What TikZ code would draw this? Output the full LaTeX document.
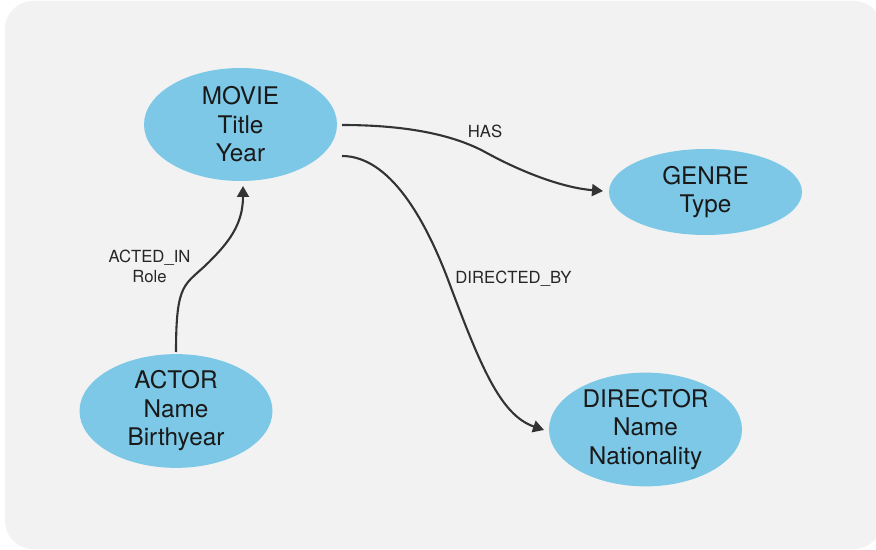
\documentclass[tikz,border=0pt]{standalone}
\usepackage{fontspec}
\setmainfont{TeX Gyre Heros}
\usetikzlibrary{arrows.meta,shapes.geometric,calc}
\definecolor{panelgray}{HTML}{F2F2F2}
\definecolor{entityblue}{HTML}{7DC8E6}
\definecolor{linkgray}{HTML}{333333}
\begin{document}
\begin{tikzpicture}[x=1bp,y=-1bp,
  entitynode/.style={ellipse, fill=entityblue, inner sep=0pt,
    minimum width=193bp, minimum height=113bp, align=center,
    text=black!90, font=\fontsize{24.3bp}{28.5bp}\selectfont},
  relation/.style={draw=linkgray, line width=2.1bp,
    -{Triangle[length=11bp,width=12bp]}},
  rellabel/.style={inner sep=0pt, align=center, text=black!85,
    font=\fontsize{16.7bp}{20bp}\selectfont}]
  % canvas and panel
  \useasboundingbox (0,0) rectangle (876,550);
  \fill[white] (0,0) rectangle (876,550);
  \begin{scope}
    \clip (0,0) rectangle (876,550);
    \fill[panelgray, rounded corners=28bp] (5,1) rectangle (882,549);
  \end{scope}

  % entities
  \node[entitynode] (movie) at (240.5,124.5) {MOVIE\\Title\\Year};
  \node[entitynode, minimum height=86bp] (genre) at (705.5,192) {GENRE\\Type};
  \node[entitynode] (actor) at (176,411) {ACTOR\\Name\\Birthyear};
  \node[entitynode] (director) at (645.5,429.5) {DIRECTOR\\Name\\Nationality};

  % connector end points
  \coordinate (has-s) at ($(movie.center)+(101.5,0.5)$);
  \coordinate (has-m) at (485,152);
  \coordinate (has-e) at ($(genre.center)+(-102.5,-1)$);
  \coordinate (dir-s) at ($(movie.center)+(101.5,31.5)$);
  \coordinate (dir-m) at (447,277);
  \coordinate (dir-e) at ($(director.center)+(-101.5,0.5)$);
  \coordinate (act-s) at ($(actor.center)+(0,-59)$);
  \coordinate (act-m) at (209,262);
  \coordinate (act-e) at ($(movie.center)+(2.5,61.5)$);

  % relations
  \draw[relation] (has-s) .. controls (400,125) and (450,133) .. (has-m)
    .. controls (525,174) and (565,188) .. (has-e);
  \draw[relation] (dir-s) .. controls (390,156) and (425,220) .. (dir-m)
    .. controls (480,365) and (500,415) .. (dir-e);
  \draw[relation] (act-s) .. controls (176,280) and (185,286) .. (act-m)
    .. controls (228,243) and (243,225) .. (act-e);

  % relation labels
  \node[rellabel, anchor=base] (has-label) at (485,138) {HAS};
  \node[rellabel, anchor=base] (dir-label) at (513.5,284) {DIRECTED\_BY};
  \node[rellabel] (act-label) at (149.5,266) {ACTED\_IN\\Role};
\end{tikzpicture}
\end{document}
